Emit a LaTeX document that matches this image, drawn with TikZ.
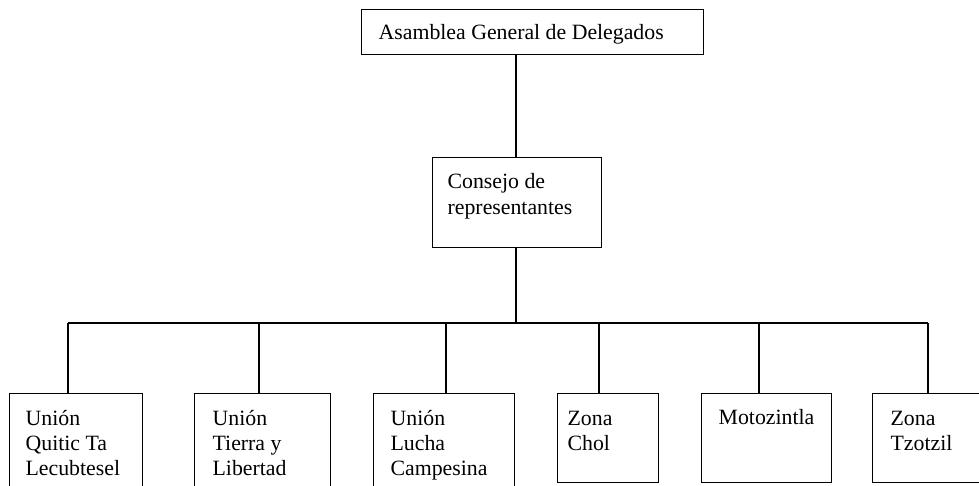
\documentclass[tikz,border=0pt]{standalone}
\usepackage{fontspec}
\setmainfont{Liberation Serif}
\begin{document}
\begin{tikzpicture}[x=1pt,y=-1pt,line width=1.3pt,
  boxst/.style={draw,line width=1.3pt,rectangle,inner sep=0pt,anchor=north west},
  txt/.style={anchor=north west,inner sep=0pt,align=left,font=\fontsize{21.8}{25.3}\selectfont}]
\useasboundingbox[fill=white] (0,0) rectangle (979,486);
% boxes
\node[boxst,minimum width=342pt,minimum height=45pt] (ag) at (361,9) {};
\node[boxst,minimum width=169pt,minimum height=90pt] (cr) at (432,157) {};
\node[boxst,minimum width=133pt,minimum height=97pt] (c1) at (9,393) {};
\node[boxst,minimum width=136pt,minimum height=97pt] (c2) at (194,393) {};
\node[boxst,minimum width=141pt,minimum height=97pt] (c3) at (373,393) {};
\node[boxst,minimum width=101pt,minimum height=89pt] (c4) at (557,393) {};
\node[boxst,minimum width=130pt,minimum height=89pt] (c5) at (701,393) {};
\node[boxst,minimum width=115pt,minimum height=89pt] (c6) at (872,393) {};
% texts (first baseline = top + 17.7)
\node[txt] (tag) at (378,21.5) {\strut Asamblea General de Delegados};
\node[txt] (tcr) at (447,170.5) {\strut Consejo de\\representantes};
\node[txt] (t1) at (25,407) {\strut Unión\\Quitic Ta\\Lecubtesel};
\node[txt] (t2) at (212,407) {\strut Unión\\Tierra y\\Libertad};
\node[txt] (t3) at (390,407) {\strut Unión\\Lucha\\Campesina};
\node[txt] (t4) at (567,407) {\strut Zona\\Chol};
\node[txt] (t5) at (718,406) {\strut Motozintla};
\node[txt] (t6) at (890,407) {\strut Zona\\Tzotzil};
% connectors
\coordinate (k0) at (516,323);
\coordinate (k1) at (68,323);
\coordinate (k2) at (259,323);
\coordinate (k3) at (446,323);
\coordinate (k4) at (599,323);
\coordinate (k5) at (759,323);
\coordinate (k6) at (928,323);
\draw (cr.north -| k0) -- (ag.south -| k0);
\draw (cr.south -| k0) -- (k0);
\draw (k1) -- (k6);
\draw (k1) -- (k1 |- c1.north);
\draw (k2) -- (k2 |- c2.north);
\draw (k3) -- (k3 |- c3.north);
\draw (k4) -- (k4 |- c4.north);
\draw (k5) -- (k5 |- c5.north);
\draw (k6) -- (k6 |- c6.north);
\end{tikzpicture}
\end{document}
